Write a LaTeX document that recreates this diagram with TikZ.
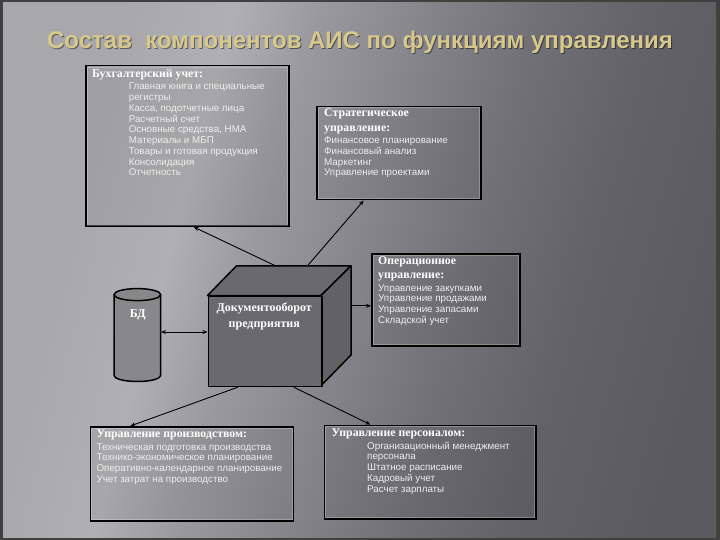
\documentclass[tikz,border=0pt]{standalone}
\usepackage{fontspec}
\setmainfont{Liberation Serif}
\newfontfamily\sansf{Liberation Sans}
\usetikzlibrary{arrows.meta,calc}
\definecolor{bgA}{HTML}{A8A8AC}
\definecolor{bgB}{HTML}{B0B0B4}
\definecolor{bgC}{HTML}{9A9A9E}
\definecolor{bgD}{HTML}{84848A}
\definecolor{bgE}{HTML}{707076}
\definecolor{bgF}{HTML}{626268}
\definecolor{bgG}{HTML}{5A5A60}
\definecolor{titlec}{RGB}{216,200,140}
\definecolor{txtc}{HTML}{EEEEEE}
\definecolor{cubec}{HTML}{6A6A6E}
\pgfdeclarehorizontalshading{bgsh}{100bp}{color(0bp)=(bgA); color(28bp)=(bgA); color(36bp)=(bgB); color(42bp)=(bgC); color(50bp)=(bgD); color(58bp)=(bgE); color(66bp)=(bgF); color(76bp)=(bgG); color(100bp)=(bgG)}
\tikzset{
  boxst/.style={draw=black, line width=1.5pt, fill=black, fill opacity=0.05, text opacity=1, inner sep=0pt, anchor=north west},
  inner/.style={draw=white, draw opacity=0.25, line width=0.5pt},
  hd/.style={font=\bfseries\fontsize{11.8}{12}\selectfont, text=white, anchor=base west, inner sep=0pt},
  itm/.style={font=\sansf\fontsize{9.8}{10}\selectfont, text=txtc, anchor=base west, inner sep=0pt},
  arr/.style={line width=0.9pt, draw=black, -{Stealth[length=5pt,width=4pt]}},
  dbl/.style={line width=0.9pt, draw=black, {Stealth[length=5pt,width=4pt]}-{Stealth[length=5pt,width=4pt]}},
  edge/.style={draw=black, line width=1.5pt, line join=round}
}
\begin{document}
\begin{tikzpicture}[x=1pt,y=-1pt]
\useasboundingbox (0,0) rectangle (720,540);
% background
\fill[black!75] (0,0) rectangle (720,540);
\shade[shading=bgsh, shading angle=-15] (3,3) rectangle (716,537);
% title
\node[font=\sansf\bfseries\fontsize{24}{26}\selectfont, text=black, text opacity=0.45, anchor=base, inner sep=0pt] (titlesh) at (361,49.5) {Состав\ \ компонентов АИС по функциям управления};
\node[font=\sansf\bfseries\fontsize{24}{26}\selectfont, text=titlec, anchor=base, inner sep=0pt] (title) at (360,48.5) {Состав\ \ компонентов АИС по функциям управления};

% boxes
\node[boxst, minimum width=203, minimum height=160.5] (buh) at (85,65) {};
\node[boxst, minimum width=164, minimum height=93.3] (strat) at (316,105.7) {};
\node[boxst, minimum width=148, minimum height=92] (oper) at (371,253) {};
\node[boxst, minimum width=203, minimum height=94] (prod) at (89.5,426) {};
\node[boxst, minimum width=211.3, minimum height=93.4] (pers) at (323.7,424.6) {};
\foreach \b in {buh,strat,oper,prod,pers}
  \draw[inner] ([shift={(2pt,-2pt)}]\b.north west) rectangle ([shift={(-2pt,2pt)}]\b.south east);

% Бухгалтерский учет
\node[hd] (buhh) at (92,77.5) {Бухгалтерский учет:};
\foreach \t [count=\i from 0] in {Главная книга и специальные, регистры, {Касса, подотчетные лица}, Расчетный счет, {Основные средства, НМА}, Материалы и МБП, Товары и готовая  продукция, Консолидация, Отчетность}
  \node[itm] (buhi\i) at (128.6,{90+10.75*\i}) {\t};

% Стратегическое
\node[hd] (strath1) at (324,117) {Стратегическое};
\node[hd] (strath2) at (324,131.5) {управление:};
\foreach \t [count=\i from 0] in {Финансовое планирование, Финансовый анализ, Маркетинг, Управление проектами}
  \node[itm] (strati\i) at (324,{143.6+10.8*\i}) {\t};

% Операционное
\node[hd] (operh1) at (378,264.5) {Операционное};
\node[hd] (operh2) at (378,278) {управление:};
\foreach \t [count=\i from 0] in {Управление закупками, Управление продажами, Управление запасами, Складской учет}
  \node[itm] (operi\i) at (378,{291+10.7*\i}) {\t};

% Управление производством
\node[hd] (prodh) at (96.4,437) {Управление производством:};
\foreach \t [count=\i from 0] in {Техническая подготовка  производства, Технико-экономическое планирование, Оперативно-календарное планирование, Учет затрат на  производство}
  \node[itm] (prodi\i) at (96.4,{450+10.7*\i}) {\t};

% Управление персоналом
\node[hd] (persh) at (331.5,436.3) {Управление персоналом:};
\foreach \t [count=\i from 0] in {Организационный менеджмент, персонала, Штатное расписание, Кадровый учет, Расчет зарплаты}
  \node[itm] (persi\i) at (367,{449+10.85*\i}) {\t};

% cylinder БД
\fill[cubec!80!white] (114,294.6) -- (114,375.5) arc[start angle=180,end angle=0,x radius=23.35,y radius=6] -- (160.7,294.6) -- cycle;
\draw[edge] (114,294.6) -- (114,375.5) arc[start angle=180,end angle=0,x radius=23.35,y radius=6] -- (160.7,294.6);
\draw[edge, fill=cubec!80!white] (137.35,294.6) ellipse [x radius=23.35, y radius=6];
\node[inner sep=0pt, minimum width=46.7, minimum height=93] (db) at (137.35,335) {};
\node[font=\bfseries\fontsize{12}{13}\selectfont, text=white, anchor=base, inner sep=0pt] (dbt) at (137.7,317.5) {БД};

% cube
\coordinate (cftl) at (207.5,295.5);
\coordinate (cftr) at (321,295.5);
\coordinate (cfbr) at (321,385.7);
\coordinate (cbtl) at (236.5,265.8);
\coordinate (cbtr) at (351,265.8);
\coordinate (cbbr) at (351,355);
\draw[edge, fill=cubec] (cftl) -- (cbtl) -- (cbtr) -- (cftr) -- cycle;
\draw[edge, fill=cubec!92!black] (cftr) -- (cbtr) -- (cbbr) -- (cfbr) -- cycle;
\node[draw=black, line width=1.5pt, fill=cubec, inner sep=0pt, anchor=north west, minimum width=113.5, minimum height=90.2] (cube) at (cftl) {};
\node[font=\bfseries\fontsize{12}{13}\selectfont, text=white, anchor=base, inner sep=0pt] (cubet1) at (264.25,311.5) {Документооборот};
\node[font=\bfseries\fontsize{12}{13}\selectfont, text=white, anchor=base, inner sep=0pt] (cubet2) at (264.25,327) {предприятия};

% connectors
\coordinate (s1) at ($(cbtl)!0.34!(cbtr)$);
\coordinate (s2) at ($(cbtl)!0.62!(cbtr)$);
\draw[arr] (s1) -- ([xshift=6.5pt]buh.south);
\draw[arr] (s2) -- ([xshift=-35pt]strat.south);
\coordinate (cr) at (351,305.8);
\draw[arr] (cr) -- (cr -| oper.west);
\draw[dbl] ([yshift=3pt]db.east) -- ([yshift=3pt]db.east -| cube.west);
\draw[arr] ([xshift=30.3pt]cube.south west) -- ([xshift=-61.5pt]prod.north);
\draw[arr] ([xshift=86.3pt]cube.south west) -- ([xshift=-59.7pt]pers.north);
\end{tikzpicture}
\end{document}
